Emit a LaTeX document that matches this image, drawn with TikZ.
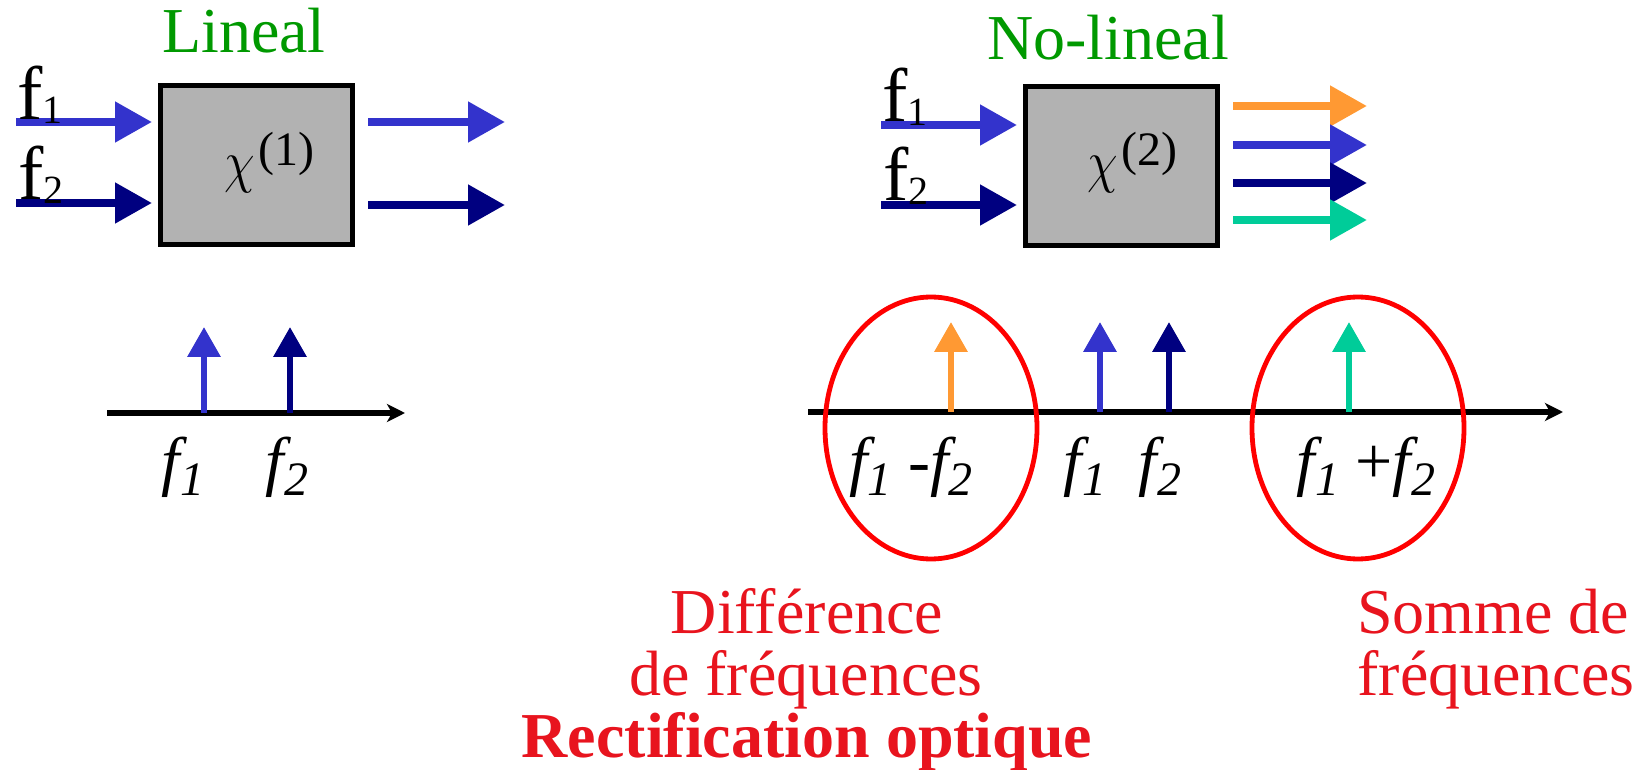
\documentclass[tikz,border=0pt]{standalone}
\usepackage{fontspec}
\setmainfont{Liberation Serif}
\usetikzlibrary{arrows.meta,shapes.geometric}
\definecolor{cblue}{RGB}{51,51,204}
\definecolor{cnavy}{RGB}{0,0,128}
\definecolor{corange}{RGB}{255,153,51}
\definecolor{cteal}{RGB}{0,204,153}
\definecolor{cgreen}{RGB}{0,153,0}
\definecolor{cring}{RGB}{255,0,0}
\definecolor{ctext}{RGB}{232,20,30}
\definecolor{cgray}{RGB}{178,178,178}
\newcommand{\finlab}[1]{f\raisebox{-2pt}{\fontsize{20}{20}\selectfont #1}}
\newcommand{\faxlab}[1]{{\itshape f\raisebox{-6pt}{\fontsize{24}{24}\selectfont #1}}}
\newcommand{\chisym}[1]{\scalebox{1}[1.18]{$\chi$}\hspace{2pt}\raisebox{8pt}{\fontsize{24}{24}\selectfont(#1)}}
\tikzset{
  bigarrow/.style={line width=4pt,-{Triangle[length=18.5pt,width=19.5pt]}},
  spike/.style={line width=3.2pt,-{Triangle[length=15pt,width=16pt]}},
  axisline/.style={line width=3.2pt,-{Stealth[length=9pt,width=9pt,inset=2.5pt]}},
  chibox/.style={draw=black,line width=2.5pt,fill=cgray,minimum width=96pt,minimum height=79.5pt,inner sep=0pt},
  ring/.style={ellipse,draw=cring,line width=2.4pt,minimum width=106pt,minimum height=131pt,inner sep=0pt},
  title/.style={text=cgreen,font=\fontsize{32}{32}\selectfont,inner sep=0pt,anchor=base},
  redtxt/.style={text=ctext,font=\fontsize{32}{32}\selectfont,inner sep=0pt},
  inlabel/.style={font=\fontsize{38}{38}\selectfont,inner sep=0pt,anchor=base west},
  axlabel/.style={font=\fontsize{33}{33}\selectfont,inner sep=0pt,anchor=base},
  chilabel/.style={font=\fontsize{44}{44}\selectfont,inner sep=0pt,anchor=base west}
}
\begin{document}
\begin{tikzpicture}[x=0.5pt,y=-0.5pt]
\useasboundingbox (0,0) rectangle (1645,770);
% ---------- left (linear) ----------
\node[title] (tL) at (244,53) {Lineal};
\node[chibox] (boxL) at (256.5,165) {};
\node[chilabel] (chiL) at (224,182) {\chisym{1}};
\coordinate (iL1a) at (16,122);  \coordinate (iL1b) at (152,122);
\coordinate (iL2a) at (16,203);  \coordinate (iL2b) at (152,203);
\coordinate (oL1a) at (368,122); \coordinate (oL1b) at (505,122);
\coordinate (oL2a) at (368,205); \coordinate (oL2b) at (505,205);
\draw[bigarrow,cblue] (iL1a) -- (iL1b);
\draw[bigarrow,cnavy] (iL2a) -- (iL2b);
\draw[bigarrow,cblue] (oL1a) -- (oL1b);
\draw[bigarrow,cnavy] (oL2a) -- (oL2b);
\node[inlabel] (fL1) at (17,120) {\finlab{1}};
\node[inlabel] (fL2) at (18,200) {\finlab{2}};
% left spectrum
\coordinate (axLa) at (107,413); \coordinate (axLb) at (405,413);
\draw[axisline] (axLa) -- (axLb);
\coordinate (sL1b) at (204,413); \coordinate (sL1t) at (204,327);
\coordinate (sL2b) at (290,413); \coordinate (sL2t) at (290,327);
\draw[spike,cblue] (sL1b) -- (sL1t);
\draw[spike,cnavy] (sL2b) -- (sL2t);
\node[axlabel] (lL1) at (183,483) {\faxlab{1}};
\node[axlabel] (lL2) at (287,483) {\faxlab{2}};
% ---------- right (non-linear) ----------
\node[title] (tR) at (1108,60) {No-lineal};
\node[chibox] (boxR) at (1121.5,166.5) {};
\node[chilabel] (chiR) at (1087,182) {\chisym{2}};
\coordinate (iR1a) at (881,125);  \coordinate (iR1b) at (1017,125);
\coordinate (iR2a) at (881,205);  \coordinate (iR2b) at (1017,205);
\draw[bigarrow,cblue] (iR1a) -- (iR1b);
\draw[bigarrow,cnavy] (iR2a) -- (iR2b);
\coordinate (oR1a) at (1233,106); \coordinate (oR1b) at (1367,106);
\coordinate (oR2a) at (1233,145); \coordinate (oR2b) at (1367,145);
\coordinate (oR3a) at (1233,183); \coordinate (oR3b) at (1367,183);
\coordinate (oR4a) at (1233,220); \coordinate (oR4b) at (1367,220);
\draw[bigarrow,corange] (oR1a) -- (oR1b);
\draw[bigarrow,cblue] (oR2a) -- (oR2b);
\draw[bigarrow,cnavy] (oR3a) -- (oR3b);
\draw[bigarrow,cteal] (oR4a) -- (oR4b);
\node[inlabel] (fR1) at (882,122) {\finlab{1}};
\node[inlabel] (fR2) at (883,201) {\finlab{2}};
% right spectrum
\coordinate (axRa) at (808,412); \coordinate (axRb) at (1563,412);
\draw[axisline] (axRa) -- (axRb);
\coordinate (sR0b) at (951,412);  \coordinate (sR0t) at (951,322);
\coordinate (sR1b) at (1100,412); \coordinate (sR1t) at (1100,322);
\coordinate (sR2b) at (1169,412); \coordinate (sR2t) at (1169,322);
\coordinate (sR3b) at (1349,412); \coordinate (sR3t) at (1349,322);
\draw[spike,corange] (sR0b) -- (sR0t);
\draw[spike,cblue] (sR1b) -- (sR1t);
\draw[spike,cnavy] (sR2b) -- (sR2t);
\draw[spike,cteal] (sR3b) -- (sR3t);
\node[axlabel] (lRd) at (911,483) {\faxlab{1}\ -\faxlab{2}};
\node[axlabel] (lR1) at (1085,483) {\faxlab{1}};
\node[axlabel] (lR2) at (1160,483) {\faxlab{2}};
\node[axlabel] (lRs) at (1366,483) {\faxlab{1}\ +\faxlab{2}};
\node[ring] (ringD) at (931,428) {};
\node[ring] (ringS) at (1358,428) {};
% red captions
\node[redtxt,anchor=base] (cD1) at (807,633) {Différence};
\node[redtxt,anchor=base] (cD2) at (806,695) {de fréquences};
\node[redtxt,anchor=base,font=\fontsize{32}{32}\selectfont\bfseries] (cD3) at (807,757) {Rectification optique};
\node[redtxt,anchor=base west] (cS1) at (1357,633) {Somme de};
\node[redtxt,anchor=base west] (cS2) at (1357,695) {fréquences};
\end{tikzpicture}
\end{document}
